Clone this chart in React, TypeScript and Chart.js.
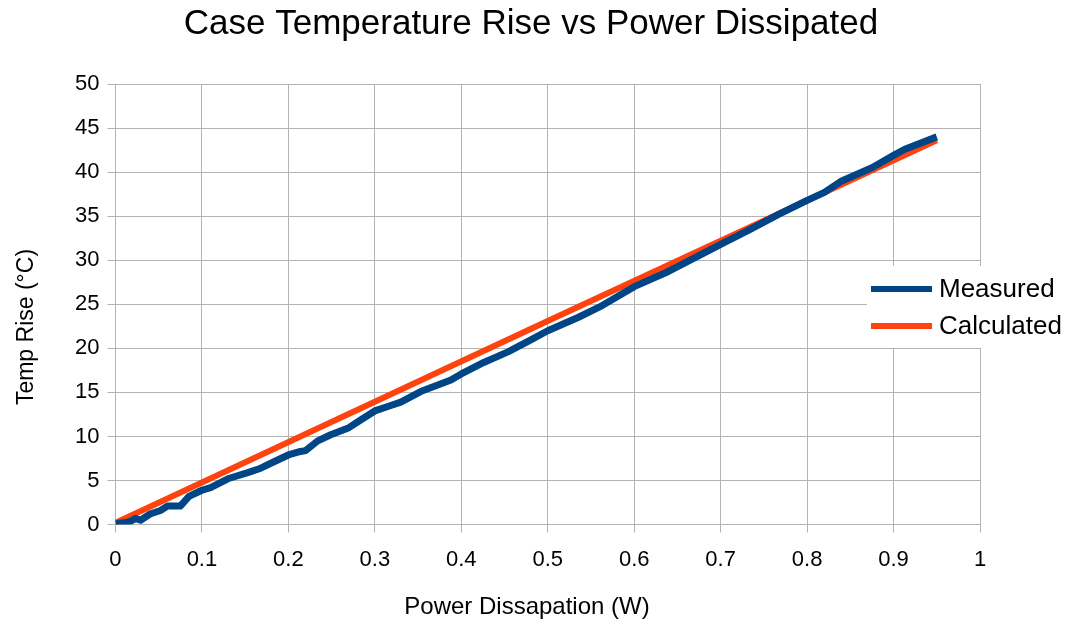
import React, { useEffect, useRef } from "react";
import { Chart, registerables } from "chart.js";

Chart.register(...registerables);

const TITLE = "Case Temperature Rise vs Power Dissipated";
const X_TITLE = "Power Dissapation (W)";
const Y_TITLE = "Temp Rise (°C)";
const SERIES_NAMES = ["Measured", "Calculated"];
const SERIES_COLORS = ["#004586", "#ff420e"];

const measuredX = [0, 0.01, 0.017, 0.023, 0.029, 0.04, 0.052, 0.06, 0.075, 0.085, 0.1, 0.11, 0.13, 0.153, 0.168, 0.187, 0.2, 0.214, 0.22, 0.234, 0.249, 0.27, 0.284, 0.3, 0.315, 0.33, 0.353, 0.388, 0.4, 0.426, 0.454, 0.481, 0.5, 0.535, 0.56, 0.6, 0.639, 0.69, 0.7, 0.732, 0.767, 0.8, 0.82, 0.84, 0.875, 0.9, 0.913, 0.95];
const measuredY = [0.1, 0.2, 0.35, 0.7, 0.5, 1.2, 1.6, 2.1, 2.1, 3.2, 3.9, 4.2, 5.2, 5.9, 6.4, 7.3, 7.9, 8.3, 8.4, 9.5, 10.2, 11.0, 11.9, 12.9, 13.4, 13.9, 15.1, 16.4, 17.1, 18.4, 19.6, 21.0, 22.0, 23.5, 24.7, 27.0, 28.7, 31.3, 31.8, 33.4, 35.2, 36.8, 37.7, 39.0, 40.5, 41.9, 42.6, 44.0];

const calculatedX = [0, 0.5, 0.95];
const calculatedY = [0.2, 23.1, 43.6];

const FONT = "'Liberation Sans', Arial, sans-serif";

const decorPlugin = {
  id: "decor",
  afterDraw(chart: any) {
    const ctx = chart.ctx;
    ctx.save();
    // title
    ctx.fillStyle = "#000000";
    ctx.textAlign = "center";
    ctx.textBaseline = "middle";
    ctx.font = `35px ${FONT}`;
    ctx.fillText(TITLE, 531, 24);
    // x title
    ctx.font = `24px ${FONT}`;
    ctx.fillText(X_TITLE, 527, 607);
    // y title
    ctx.save();
    ctx.translate(27, 327);
    ctx.rotate(-Math.PI / 2);
    ctx.font = `23px ${FONT}`;
    ctx.fillText(Y_TITLE, 0, 0);
    ctx.restore();
    // legend
    ctx.fillStyle = "#ffffff";
    ctx.fillRect(867, 266, 203, 82);
    const rows = [289, 326];
    SERIES_NAMES.forEach((name, i) => {
      ctx.strokeStyle = SERIES_COLORS[i];
      ctx.lineWidth = 6;
      ctx.beginPath();
      ctx.moveTo(871, rows[i]);
      ctx.lineTo(932, rows[i]);
      ctx.stroke();
      ctx.fillStyle = "#000000";
      ctx.font = `26px ${FONT}`;
      ctx.textBaseline = "middle";
      ctx.textAlign = "left";
      ctx.fillText(name, 939, rows[i] + 1);
    });
    ctx.restore();
  },
};

export default function App() {
  const ref = useRef<HTMLCanvasElement>(null);
  useEffect(() => {
    if (!ref.current) return;
    const chart = new Chart(ref.current, {
      type: "line",
      data: {
        datasets: [
          {
            label: SERIES_NAMES[0],
            data: measuredX.map((x, i) => ({ x, y: measuredY[i] })),
            borderColor: SERIES_COLORS[0],
            backgroundColor: SERIES_COLORS[0],
            borderWidth: 7,
            borderJoinStyle: "round",
            pointRadius: 0,
            tension: 0,
          },
          {
            label: SERIES_NAMES[1],
            data: calculatedX.map((x, i) => ({ x, y: calculatedY[i] })),
            borderColor: SERIES_COLORS[1],
            backgroundColor: SERIES_COLORS[1],
            borderWidth: 6,
            pointRadius: 0,
            tension: 0,
          },
        ],
      },
      options: {
        responsive: false,
        animation: false,
        layout: { padding: { left: 67, right: 90, top: 84, bottom: 35 } },
        plugins: {
          legend: { display: false },
          tooltip: { enabled: false },
          title: { display: false },
        },
        scales: {
          x: {
            type: "linear",
            min: 0,
            max: 1,
            ticks: {
              stepSize: 0.1,
              color: "#000",
              font: { family: FONT, size: 22 },
              padding: 14,
              maxRotation: 0,
              callback: (v: any) => String(Math.round(Number(v) * 10) / 10),
            },
            grid: { color: "#b3b3b3", lineWidth: 1, tickLength: 8 },
            border: { color: "#b3b3b3" },
          },
          y: {
            min: 0,
            max: 50,
            ticks: {
              stepSize: 5,
              color: "#000",
              font: { family: FONT, size: 22 },
              padding: 8,
            },
            grid: { color: "#b3b3b3", lineWidth: 1, tickLength: 8 },
            border: { color: "#b3b3b3" },
          },
        },
      },
      plugins: [decorPlugin],
    });
    return () => chart.destroy();
  }, []);
  return (
    <div style={{ position: "absolute", left: 0, top: 0, width: 1070, height: 622, background: "#fff" }}>
      <canvas ref={ref} width={1070} height={622} />
    </div>
  );
}
